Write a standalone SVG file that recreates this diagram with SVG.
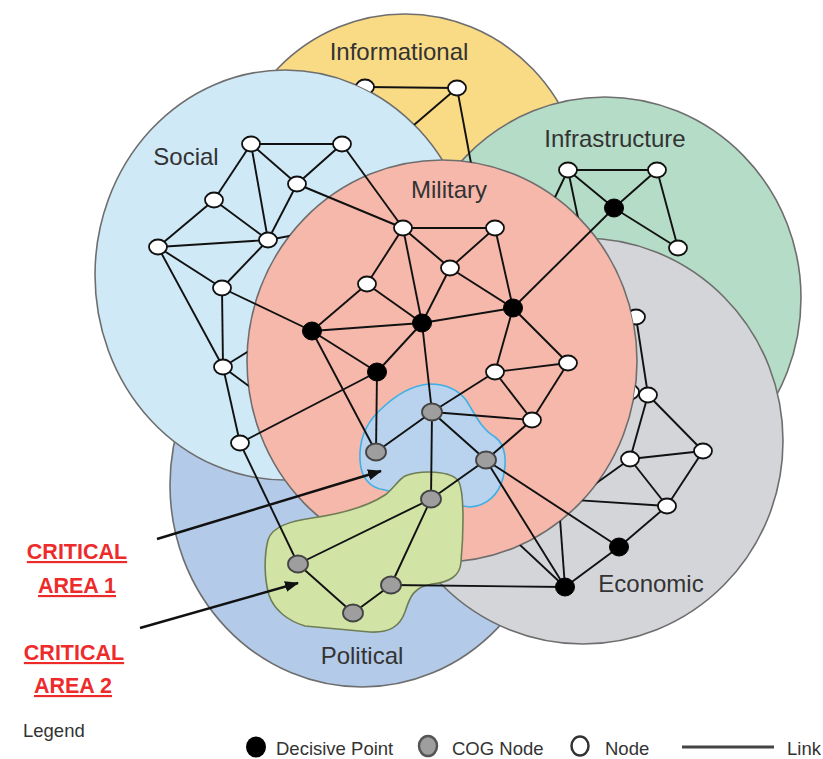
<svg xmlns="http://www.w3.org/2000/svg" width="823" height="759" viewBox="0 0 823 759">
<style>
.dom{stroke:#6e6e6e;stroke-width:1.6}
.lk{stroke:#111;stroke-width:1.9;fill:none}
.w{fill:#fff;stroke:#111;stroke-width:1.8}
.b{fill:#000;stroke:#000;stroke-width:1}
.g{fill:#9e9e9e;stroke:#444;stroke-width:1.8}
.lbl{font-family:"Liberation Sans",Arial,sans-serif;font-size:24px;fill:#333;text-anchor:middle}
.crit{font-family:"Liberation Sans",Arial,sans-serif;font-size:21.5px;font-weight:bold;fill:#ee2b2b;text-anchor:middle;text-decoration:underline}
.leg{font-family:"Liberation Sans",Arial,sans-serif;font-size:18.5px;fill:#333}
.arr{stroke:#111;stroke-width:2.4;fill:none}
</style>
<defs>
<clipPath id="outMil"><path clip-rule="evenodd" d="M0,0H823V759H0Z M247,361 a195,201 0 1,0 390,0 a195,201 0 1,0 -390,0 Z"/></clipPath>
<clipPath id="outSoc"><path clip-rule="evenodd" d="M0,0H823V759H0Z M95,275 a190,205 0 1,0 380,0 a190,205 0 1,0 -380,0 Z"/></clipPath>
<marker id="ah" markerUnits="userSpaceOnUse" markerWidth="14" markerHeight="11" refX="13" refY="5.5" orient="auto"><path d="M0,0 L14,5.5 L0,11 Z" fill="#111"/></marker>
</defs>
<rect width="823" height="759" fill="#fff"/>
<g id="domains">
<ellipse id="informational" class="dom" cx="405" cy="200" rx="180" ry="186" fill="#f9da85"/>
<ellipse id="infrastructure" class="dom" cx="605" cy="298" rx="196" ry="201" fill="#b5dcc6"/>
<ellipse id="political" class="dom" cx="362" cy="485" rx="192" ry="202" fill="#b3cbe8"/>
<ellipse id="social" class="dom" cx="285" cy="275" rx="190" ry="205" fill="#d0e9f6"/>
<ellipse id="economic" class="dom" cx="583" cy="441" rx="200" ry="203" fill="#d4d5d9"/>
<ellipse id="military" class="dom" cx="442" cy="361" rx="195" ry="201" fill="#f6b8aa"/>
<path id="critical-area-1" d="M430,384 C445,384 458,390 466,400 C474,412 480,428 495,437 C506,445 507,462 503,478 C499,494 487,506 470,507 L420,500 L385,490 C370,488 361,478 360,460 C359,440 366,424 378,412 C392,398 410,385 430,384 Z" fill="#b9d3ee" stroke="#3fb0e6" stroke-width="1.6"/>
<path id="critical-area-2" d="M405,476 C420,470 452,470 459,482 C465,496 463,540 461,562 C460,576 450,582 432,584 C414,587 410,596 405,612 C400,626 390,633 370,632 L305,626 C288,621 274,610 269,595 C264,578 264,556 268,540 C272,526 292,521 312,518 C340,514 365,508 385,495 C394,488 398,480 405,476 Z" fill="#d2e3a6" stroke="#6f7d55" stroke-width="1.6"/>
</g>
<g id="labels">
<text class="lbl" x="399" y="60">Informational</text>
<text class="lbl" x="186" y="165">Social</text>
<text class="lbl" x="615" y="147">Infrastructure</text>
<text class="lbl" x="449" y="198">Military</text>
<text class="lbl" x="651" y="592">Economic</text>
<text class="lbl" x="362" y="664">Political</text>
<text class="crit" x="77" y="559">CRITICAL</text>
<text class="crit" x="77" y="593">AREA 1</text>
<text class="crit" x="74" y="660">CRITICAL</text>
<text class="crit" x="73" y="693">AREA 2</text>
</g>
<g id="connectors">
<line class="lk" x1="365" y1="87" x2="457" y2="88"/>
<line class="lk" x1="457" y1="88" x2="400" y2="137" clip-path="url(#outSoc)"/>
<line class="lk" x1="457" y1="88" x2="476" y2="190" clip-path="url(#outMil)"/>
<line class="lk" x1="568" y1="170" x2="657" y2="170"/>
<line class="lk" x1="568" y1="170" x2="614" y2="208"/>
<line class="lk" x1="657" y1="170" x2="614" y2="208"/>
<line class="lk" x1="657" y1="170" x2="678" y2="248"/>
<line class="lk" x1="614" y1="208" x2="678" y2="248"/>
<line class="lk" x1="568" y1="170" x2="548" y2="212" clip-path="url(#outMil)"/>
<line class="lk" x1="568" y1="170" x2="582" y2="237" clip-path="url(#outMil)"/>
<line class="lk" x1="251" y1="144" x2="342" y2="144"/>
<line class="lk" x1="251" y1="144" x2="214" y2="200"/>
<line class="lk" x1="251" y1="144" x2="268" y2="240"/>
<line class="lk" x1="251" y1="144" x2="297" y2="184"/>
<line class="lk" x1="342" y1="144" x2="297" y2="184"/>
<line class="lk" x1="297" y1="184" x2="268" y2="240"/>
<line class="lk" x1="214" y1="200" x2="158" y2="247"/>
<line class="lk" x1="214" y1="200" x2="268" y2="240"/>
<line class="lk" x1="158" y1="247" x2="268" y2="240"/>
<line class="lk" x1="158" y1="247" x2="222" y2="288"/>
<line class="lk" x1="158" y1="247" x2="223" y2="367"/>
<line class="lk" x1="268" y1="240" x2="222" y2="288"/>
<line class="lk" x1="222" y1="288" x2="223" y2="367"/>
<line class="lk" x1="223" y1="367" x2="240" y2="443"/>
<line class="lk" x1="223" y1="367" x2="262" y2="343" clip-path="url(#outMil)"/>
<line class="lk" x1="223" y1="367" x2="265" y2="398" clip-path="url(#outMil)"/>
<line class="lk" x1="268" y1="240" x2="300" y2="234" clip-path="url(#outMil)"/>
<line class="lk" x1="342" y1="144" x2="403" y2="228"/>
<line class="lk" x1="297" y1="184" x2="403" y2="228"/>
<line class="lk" x1="222" y1="288" x2="312" y2="331"/>
<line class="lk" x1="240" y1="443" x2="377" y2="372"/>
<line class="lk" x1="240" y1="443" x2="298" y2="564"/>
<line class="lk" x1="614" y1="208" x2="513" y2="308"/>
<line class="lk" x1="403" y1="228" x2="495" y2="228"/>
<line class="lk" x1="403" y1="228" x2="367" y2="284"/>
<line class="lk" x1="403" y1="228" x2="422" y2="323"/>
<line class="lk" x1="403" y1="228" x2="450" y2="268"/>
<line class="lk" x1="495" y1="228" x2="450" y2="268"/>
<line class="lk" x1="495" y1="228" x2="513" y2="308"/>
<line class="lk" x1="450" y1="268" x2="422" y2="323"/>
<line class="lk" x1="450" y1="268" x2="513" y2="308"/>
<line class="lk" x1="367" y1="284" x2="312" y2="331"/>
<line class="lk" x1="367" y1="284" x2="422" y2="323"/>
<line class="lk" x1="312" y1="331" x2="422" y2="323"/>
<line class="lk" x1="312" y1="331" x2="377" y2="372"/>
<line class="lk" x1="312" y1="331" x2="376" y2="452"/>
<line class="lk" x1="422" y1="323" x2="513" y2="308"/>
<line class="lk" x1="422" y1="323" x2="377" y2="372"/>
<line class="lk" x1="422" y1="323" x2="432" y2="412"/>
<line class="lk" x1="513" y1="308" x2="495" y2="372"/>
<line class="lk" x1="513" y1="308" x2="568" y2="363"/>
<line class="lk" x1="495" y1="372" x2="568" y2="363"/>
<line class="lk" x1="495" y1="372" x2="532" y2="420"/>
<line class="lk" x1="495" y1="372" x2="432" y2="412"/>
<line class="lk" x1="568" y1="363" x2="532" y2="420"/>
<line class="lk" x1="532" y1="420" x2="432" y2="412"/>
<line class="lk" x1="532" y1="420" x2="486" y2="460"/>
<line class="lk" x1="377" y1="372" x2="376" y2="452"/>
<line class="lk" x1="432" y1="412" x2="376" y2="452"/>
<line class="lk" x1="432" y1="412" x2="486" y2="460"/>
<line class="lk" x1="432" y1="412" x2="431" y2="499"/>
<line class="lk" x1="486" y1="460" x2="431" y2="499"/>
<line class="lk" x1="431" y1="499" x2="298" y2="564"/>
<line class="lk" x1="431" y1="499" x2="391" y2="585"/>
<line class="lk" x1="298" y1="564" x2="353" y2="613"/>
<line class="lk" x1="353" y1="613" x2="391" y2="585"/>
<line class="lk" x1="391" y1="585" x2="565" y2="587"/>
<line class="lk" x1="486" y1="460" x2="565" y2="587"/>
<line class="lk" x1="486" y1="460" x2="619" y2="547"/>
<line class="lk" x1="636" y1="317" x2="648" y2="395"/>
<line class="lk" x1="648" y1="395" x2="703" y2="451"/>
<line class="lk" x1="648" y1="395" x2="630" y2="459"/>
<line class="lk" x1="703" y1="451" x2="630" y2="459"/>
<line class="lk" x1="703" y1="451" x2="667" y2="506"/>
<line class="lk" x1="630" y1="459" x2="667" y2="506"/>
<line class="lk" x1="667" y1="506" x2="619" y2="547"/>
<line class="lk" x1="619" y1="547" x2="565" y2="587"/>
<line class="lk" x1="630" y1="459" x2="570" y2="502" clip-path="url(#outMil)"/>
<line class="lk" x1="667" y1="506" x2="560" y2="499" clip-path="url(#outMil)"/>
<line class="lk" x1="565" y1="587" x2="505" y2="531" clip-path="url(#outMil)"/>
<line class="lk" x1="565" y1="587" x2="559" y2="505" clip-path="url(#outMil)"/>
<line class="arr" x1="157" y1="539" x2="381" y2="471" marker-end="url(#ah)"/>
<line class="arr" x1="140" y1="628" x2="298" y2="583" marker-end="url(#ah)"/>
</g>
<g id="nodes">
<g id="I1" clip-path="url(#outSoc)"><ellipse class="w" cx="365" cy="87" rx="9" ry="7.5"/></g>
<g id="I2"><ellipse class="w" cx="457" cy="88" rx="9" ry="7.5"/></g>
<g id="N1"><ellipse class="w" cx="568" cy="170" rx="9" ry="7.5"/></g>
<g id="N2"><ellipse class="w" cx="657" cy="170" rx="9" ry="7.5"/></g>
<g id="N3"><ellipse class="b" cx="614" cy="208" rx="9.5" ry="9"/></g>
<g id="N4"><ellipse class="w" cx="678" cy="248" rx="9" ry="7.5"/></g>
<g id="S1"><ellipse class="w" cx="251" cy="144" rx="9" ry="7.5"/></g>
<g id="S2"><ellipse class="w" cx="342" cy="144" rx="9" ry="7.5"/></g>
<g id="S3"><ellipse class="w" cx="297" cy="184" rx="9" ry="7.5"/></g>
<g id="S4"><ellipse class="w" cx="214" cy="200" rx="9" ry="7.5"/></g>
<g id="S5"><ellipse class="w" cx="158" cy="247" rx="9" ry="7.5"/></g>
<g id="S6"><ellipse class="w" cx="268" cy="240" rx="9" ry="7.5"/></g>
<g id="S7"><ellipse class="w" cx="222" cy="288" rx="9" ry="7.5"/></g>
<g id="S8"><ellipse class="w" cx="223" cy="367" rx="9" ry="7.5"/></g>
<g id="S9"><ellipse class="w" cx="240" cy="443" rx="9" ry="7.5"/></g>
<g id="M1"><ellipse class="w" cx="403" cy="228" rx="9" ry="7.5"/></g>
<g id="M2"><ellipse class="w" cx="495" cy="228" rx="9" ry="7.5"/></g>
<g id="M3"><ellipse class="w" cx="450" cy="268" rx="9" ry="7.5"/></g>
<g id="M4"><ellipse class="w" cx="367" cy="284" rx="9" ry="7.5"/></g>
<g id="M5"><ellipse class="b" cx="312" cy="331" rx="9.5" ry="9"/></g>
<g id="M6"><ellipse class="b" cx="422" cy="323" rx="9.5" ry="9"/></g>
<g id="M7"><ellipse class="b" cx="513" cy="308" rx="9.5" ry="9"/></g>
<g id="M8"><ellipse class="b" cx="377" cy="372" rx="9.5" ry="9"/></g>
<g id="M9"><ellipse class="w" cx="495" cy="372" rx="9" ry="7.5"/></g>
<g id="M10"><ellipse class="w" cx="568" cy="363" rx="9" ry="7.5"/></g>
<g id="M11"><ellipse class="w" cx="532" cy="420" rx="9" ry="7.5"/></g>
<g id="C1"><ellipse class="g" cx="432" cy="412" rx="10" ry="8.5"/></g>
<g id="C2"><ellipse class="g" cx="376" cy="452" rx="10" ry="8.5"/></g>
<g id="C3"><ellipse class="g" cx="486" cy="460" rx="10" ry="8.5"/></g>
<g id="C4"><ellipse class="g" cx="431" cy="499" rx="10" ry="8.5"/></g>
<g id="C5"><ellipse class="g" cx="298" cy="564" rx="10" ry="8.5"/></g>
<g id="C6"><ellipse class="g" cx="391" cy="585" rx="10" ry="8.5"/></g>
<g id="C7"><ellipse class="g" cx="353" cy="613" rx="10" ry="8.5"/></g>
<g id="E1" clip-path="url(#outMil)"><ellipse class="w" cx="636" cy="317" rx="9" ry="7.5"/></g>
<g id="E2b" clip-path="url(#outMil)"><ellipse class="w" cx="630" cy="392" rx="9" ry="7.5"/></g>
<g id="E2"><ellipse class="w" cx="648" cy="395" rx="9" ry="7.5"/></g>
<g id="E3"><ellipse class="w" cx="703" cy="451" rx="9" ry="7.5"/></g>
<g id="E4"><ellipse class="w" cx="630" cy="459" rx="9" ry="7.5"/></g>
<g id="E5"><ellipse class="w" cx="667" cy="506" rx="9" ry="7.5"/></g>
<g id="E6"><ellipse class="b" cx="619" cy="547" rx="9.5" ry="9"/></g>
<g id="E7"><ellipse class="b" cx="565" cy="587" rx="9.5" ry="9"/></g>
</g>
<g id="legend">
<text class="leg" x="23" y="737">Legend</text>
<ellipse cx="256" cy="747" rx="10" ry="10.5" fill="#000"/>
<text class="leg" x="276" y="755">Decisive Point</text>
<ellipse cx="428" cy="746" rx="9" ry="10" fill="#9e9e9e" stroke="#555" stroke-width="2.5"/>
<text class="leg" x="452" y="755">COG Node</text>
<ellipse cx="580" cy="746" rx="8.5" ry="9.5" fill="#fff" stroke="#333" stroke-width="2.5"/>
<text class="leg" x="605" y="755">Node</text>
<line x1="682" y1="747" x2="774" y2="747" stroke="#444" stroke-width="3"/>
<text class="leg" x="787" y="755">Link</text>
</g>
</svg>
